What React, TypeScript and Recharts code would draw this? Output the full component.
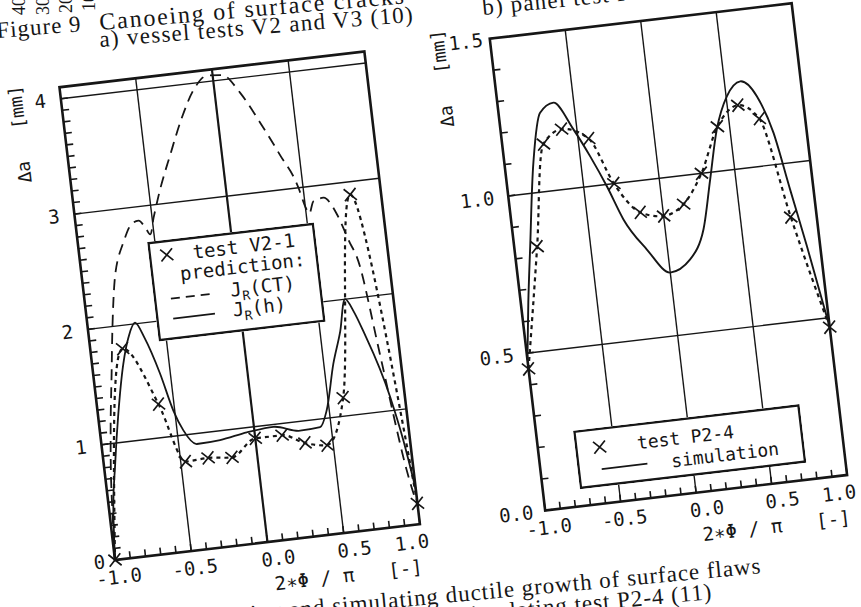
import React from 'react'
import { ComposedChart, Line, XAxis, YAxis, CartesianGrid, ReferenceArea, ReferenceLine, Legend } from 'recharts'

// a) vessel test V2-1 (crosses)
const v2TestX = [-1.0, -0.79, -0.6, -0.47, -0.32, -0.165, 0.0, 0.176, 0.318, 0.459, 0.6, 0.8, 1.0]
const v2TestY = [0.0, 1.8, 1.29, 0.77, 0.78, 0.76, 0.9, 0.9, 0.81, 0.77, 1.16, 2.89, 0.18]

// prediction J_R(CT), dashed
const jrCtX = [-1.0, -0.97, -0.93, -0.88, -0.84, -0.79, -0.7, -0.635, -0.59, -0.55, -0.525, -0.49, -0.425, -0.335, -0.23, -0.13, -0.04, 0.065, 0.165, 0.27, 0.375, 0.47, 0.5, 0.52, 0.557, 0.624, 0.7, 0.755, 0.81, 0.87, 0.955, 1.0]
const jrCtY = [0.0, 0.6, 1.11, 1.6, 1.99, 2.39, 2.72, 2.86, 2.88, 2.81, 2.75, 2.89, 3.13, 3.41, 3.72, 3.95, 4.05, 4.04, 3.87, 3.6, 3.3, 3.0, 2.83, 2.77, 2.87, 2.89, 2.73, 2.5, 2.25, 1.5, 0.48, 0.15]

// prediction J_R(h), solid
const jrHX = [-1.0, -0.975, -0.926, -0.867, -0.797, -0.744, -0.69, -0.64, -0.567, -0.509, -0.459, -0.382, -0.229, -0.05, 0.126, 0.296, 0.428, 0.484, 0.562, 0.631, 0.687, 0.735, 0.78, 0.904, 0.957, 1.0]
const jrHY = [0.0, 0.4, 0.82, 1.25, 1.67, 1.89, 2.01, 1.87, 1.55, 1.22, 1.04, 0.91, 0.92, 0.96, 0.98, 0.92, 0.93, 1.07, 1.46, 1.73, 2.0, 1.88, 1.71, 1.12, 0.73, 0.3]

// b) panel test P2-4 (crosses)
const p24TestX = [-1.0, -0.85, -0.73, -0.6, -0.43, -0.3, -0.15, 0.0, 0.14, 0.28, 0.42, 0.57, 0.7, 0.83, 1.0]
const p24TestY = [0.45, 0.83, 1.15, 1.19, 1.15, 1.0, 0.9, 0.88, 0.91, 1.0, 1.14, 1.2, 1.15, 0.83, 0.47]

// simulation, solid
const simX = [-1.0, -0.95, -0.895, -0.81, -0.728, -0.633, -0.522, -0.434, -0.348, -0.265, -0.135, 0.0, 0.14, 0.25, 0.332, 0.414, 0.505, 0.604, 0.701, 0.782, 0.847, 0.913, 1.0]
const simY = [0.48, 0.66, 0.834, 1.095, 1.249, 1.276, 1.184, 1.094, 0.994, 0.884, 0.781, 0.7, 0.734, 0.823, 0.977, 1.132, 1.232, 1.274, 1.221, 1.1, 0.916, 0.733, 0.47]

const xMajor = [-1, -0.5, 0, 0.5, 1]
const xLabels = ['-1.0', '-0.5', '0.0', '0.5', '1.0']
const leftYMajor = [0, 1, 2, 3, 4]
const leftYLabels = ['0', '1', '2', '3', '4']
const rightYMajor = [0, 0.5, 1, 1.5]
const rightYLabels = ['0.0', '0.5', '1.0', '1.5']

const INK = '#161616'
const MONO = "'DejaVu Sans Mono', 'Liberation Mono', monospace"
const SERIF = "'Liberation Serif', 'DejaVu Serif', serif"

// plotter label placement (px): x labels sit a bit right of their tick, the last one left of it
const xLabelShift = [2, 2, 9, 9, -10]
const leftYGap = [10, 15, 15, 15, 15]
const rightYGap = [12, 13, 14, 7]

const rows = (xs: number[], ys: number[]) => xs.map((x, i) => ({ x, y: ys[i] }))
// minor tick positions every 0.1
const tenths = (a: number, b: number) => {
  const out: number[] = []
  for (let k = Math.round(a * 10); k <= Math.round(b * 10); k++) out.push(k / 10)
  return out
}
const near = (list: number[], v: number) => list.findIndex((m) => Math.abs(m - v) < 1e-6)

const makeXTick = (majors: number[], labels: string[]) => (props: any) => {
  const { x, y, payload } = props
  const i = near(majors, payload.value)
  return (
    <g>
      <line x1={x} x2={x} y1={y} y2={y - 7} stroke={INK} strokeWidth={1.6} />
      {i >= 0 && (
        <text x={x + xLabelShift[i]} y={y + 24} textAnchor="middle" fontFamily={MONO} fontSize={19} fill={INK}>
          {labels[i]}
        </text>
      )}
    </g>
  )
}

const makeYTick = (majors: number[], labels: string[], gaps: number[]) => (props: any) => {
  const { x, y, payload } = props
  const i = near(majors, payload.value)
  return (
    <g>
      <line x1={x} x2={x + 7} y1={y} y2={y} stroke={INK} strokeWidth={1.6} />
      {i >= 0 && (
        <text x={x - gaps[i]} y={y + 7} textAnchor="end" fontFamily={MONO} fontSize={19} fill={INK}>
          {labels[i]}
        </text>
      )}
    </g>
  )
}

const makeYTitle = (left: number, down: number) => (props: any) => {
  const { viewBox } = props
  const cx = viewBox.x + viewBox.width - left
  const cy = viewBox.y + down
  return (
    <text
      x={cx}
      y={cy}
      transform={`rotate(-90 ${cx} ${cy})`}
      textAnchor="middle"
      dominantBaseline="central"
      fontFamily={MONO}
      fontSize={18}
      fill={INK}
      xmlSpace="preserve"
    >
      {'Δa   [mm]'}
    </text>
  )
}

const xTitle = (props: any) => {
  const { viewBox } = props
  const cx = viewBox.x + viewBox.width * 0.75
  const cy = viewBox.y + 42
  return (
    <text x={cx} y={cy} textAnchor="middle" dominantBaseline="central" fontFamily={MONO} fontSize={19} fill={INK} xmlSpace="preserve">
      {'2∗Φ / π   [-]'}
    </text>
  )
}

const cross = (props: any) => {
  const { cx, cy, index } = props
  if (cx == null || cy == null) return <g key={`n${index}`} />
  const s = 6
  return (
    <path
      key={`c${index}`}
      d={`M${cx - s},${cy - s}L${cx + s},${cy + s}M${cx - s},${cy + s}L${cx + s},${cy - s}`}
      stroke={INK}
      strokeWidth={1.7}
      fill="none"
    />
  )
}

function LeftLegendBox() {
  return (
    <svg width={168} height={100} style={{ display: 'block', background: '#fff' }}>
      <rect x={1.2} y={1.2} width={165.6} height={97.6} fill="#fff" stroke={INK} strokeWidth={2.4} />
      <path d="M12,9L24,21M12,21L24,9" stroke={INK} strokeWidth={1.7} />
      <g fontFamily={MONO} fontSize={19} fill={INK}>
        <text x={44} y={22}>test V2-1</text>
        <text x={29} y={42}>prediction:</text>
        <text x={77} y={64}>
          J<tspan fontSize={13} dy={5}>R</tspan>
          <tspan dy={-5}>(CT)</tspan>
        </text>
        <text x={77} y={84}>
          J<tspan fontSize={13} dy={5}>R</tspan>
          <tspan dy={-5}>(h)</tspan>
        </text>
      </g>
      <line x1={17} x2={59} y1={59} y2={59} stroke={INK} strokeWidth={1.8} strokeDasharray="9 6" />
      <line x1={17} x2={59} y1={79} y2={79} stroke={INK} strokeWidth={1.8} />
    </svg>
  )
}

function RightLegendBox() {
  return (
    <svg width={228} height={59} style={{ display: 'block', background: '#fff' }}>
      <rect x={1.2} y={1.2} width={225.6} height={56.6} fill="#fff" stroke={INK} strokeWidth={2.4} />
      <path d="M18.5,13.5L30.5,25.5M18.5,25.5L30.5,13.5" stroke={INK} strokeWidth={1.7} />
      <line x1={24} x2={70} y1={41.5} y2={41.5} stroke={INK} strokeWidth={1.8} />
      <g fontFamily={MONO} fontSize={18} fill={INK}>
        <text x={62} y={26}>test P2-4</text>
        <text x={94} y={48}>simulation</text>
      </g>
    </svg>
  )
}

const MARGIN = { top: 20, right: 30, bottom: 40, left: 30 }

function VesselPanel() {
  return (
    <ComposedChart width={407} height={566} margin={MARGIN}>
      <CartesianGrid horizontalValues={[1, 2, 3, 4]} verticalValues={[-0.5, 0.5]} stroke={INK} strokeWidth={1.4} />
      <ReferenceLine x={0} stroke={INK} strokeWidth={2.2} />
      <XAxis
        type="number"
        dataKey="x"
        domain={[-1, 1]}
        ticks={tenths(-1, 1)}
        interval={0}
        tickSize={0}
        tickMargin={0}
        axisLine={false}
        tickLine={false}
        tick={makeXTick(xMajor, xLabels)}
        height={30}
        label={xTitle}
      />
      <YAxis
        type="number"
        dataKey="y"
        domain={[0, 4.1]}
        ticks={tenths(0, 4)}
        interval={0}
        tickSize={0}
        tickMargin={0}
        axisLine={false}
        tickLine={false}
        tick={makeYTick(leftYMajor, leftYLabels, leftYGap)}
        width={40}
        label={makeYTitle(45, 42)}
      />
      <ReferenceArea x1={-1} x2={1} y1={0} y2={4.1} fill="none" stroke={INK} strokeWidth={2.6} ifOverflow="visible" />
      <Line data={rows(jrCtX, jrCtY)} dataKey="y" type="monotone" stroke={INK} strokeWidth={1.8} strokeDasharray="11 7" dot={false} isAnimationActive={false} />
      <Line data={rows(jrHX, jrHY)} dataKey="y" type="monotone" stroke={INK} strokeWidth={1.8} dot={false} isAnimationActive={false} />
      <Line data={rows(v2TestX, v2TestY)} dataKey="y" type="monotone" stroke={INK} strokeWidth={2.2} strokeDasharray="4 4" dot={cross} isAnimationActive={false} />
      <Legend
        layout="vertical"
        align="center"
        verticalAlign="middle"
        wrapperStyle={{ left: 139, top: 184, width: 168, height: 100 }}
        content={() => <LeftLegendBox />}
      />
    </ComposedChart>
  )
}

function PanelTest() {
  return (
    <ComposedChart width={404} height={565} margin={MARGIN}>
      <CartesianGrid horizontalValues={[0.5, 1.0]} verticalValues={[-0.5, 0, 0.5]} stroke={INK} strokeWidth={1.4} />
      <XAxis
        type="number"
        dataKey="x"
        domain={[-1, 1]}
        ticks={tenths(-1, 1)}
        interval={0}
        tickSize={0}
        tickMargin={0}
        axisLine={false}
        tickLine={false}
        tick={makeXTick(xMajor, xLabels)}
        height={30}
        label={xTitle}
      />
      <YAxis
        type="number"
        dataKey="y"
        domain={[0, 1.5]}
        ticks={tenths(0, 1.5)}
        interval={0}
        tickSize={0}
        tickMargin={0}
        axisLine={false}
        tickLine={false}
        tick={makeYTick(rightYMajor, rightYLabels, rightYGap)}
        width={40}
        label={makeYTitle(52, 34)}
      />
      <ReferenceArea x1={-1} x2={1} y1={0} y2={1.5} fill="none" stroke={INK} strokeWidth={2.6} ifOverflow="visible" />
      <Line data={rows(simX, simY)} dataKey="y" type="monotone" stroke={INK} strokeWidth={1.9} dot={false} isAnimationActive={false} />
      <Line data={rows(p24TestX, p24TestY)} dataKey="y" type="monotone" stroke={INK} strokeWidth={2.2} strokeDasharray="4 4" dot={cross} isAnimationActive={false} />
      <Legend
        layout="vertical"
        align="center"
        verticalAlign="middle"
        wrapperStyle={{ left: 107, top: 419, width: 228, height: 59 }}
        content={() => <RightLegendBox />}
      />
    </ComposedChart>
  )
}

export default function App() {
  return (
    <div style={{ position: 'fixed', inset: 0, overflow: 'hidden', background: '#fff' }}>
      {/* the scanned page sits tilted by about 6.7 degrees */}
      <div
        style={{
          position: 'absolute',
          left: 0,
          top: 0,
          width: 861,
          height: 607,
          transform: 'rotate(-6.7deg)',
          transformOrigin: '115px 560px',
        }}
      >
        <div style={{ position: 'absolute', left: 45, top: 64 }}>
          <VesselPanel />
        </div>
        <div style={{ position: 'absolute', left: 478, top: 66 }}>
          <PanelTest />
        </div>
      </div>
      <svg width={861} height={607} style={{ position: 'absolute', left: 0, top: 0, pointerEvents: 'none' }}>
        <g fontFamily={SERIF} fill={INK}>
          <text x={-3} y={38} fontSize={23} letterSpacing={1} transform="rotate(-4.6 -3 38)">Figure 9</text>
          <text x={100} y={30} fontSize={24} letterSpacing={1.8} transform="rotate(-5 100 30)">Canoeing of surface cracks</text>
          <text x={100} y={47} fontSize={23} letterSpacing={1.3} transform="rotate(-4.6 100 47)">a) vessel tests V2 and V3 (10)</text>
          <text x={483} y={15} fontSize={23} letterSpacing={1.2} transform="rotate(-5.8 483 15)">b) panel test P2-4 (11)</text>
          <text x={762} y={573} fontSize={23} letterSpacing={1} textAnchor="end" transform="rotate(-5.4 762 573)">
            Figure 10 Canoeing and simulating ductile growth of surface flaws
          </text>
          <text x={713} y={599} fontSize={23} letterSpacing={1} textAnchor="end" transform="rotate(-5.4 713 599)">
            a) vessel tests V2 and V3 (10) b) simulating test P2-4 (11)
          </text>
        </g>
        <g fontFamily={SERIF} fontSize={18} fill={INK}>
          <text x={25} y={15} transform="rotate(-90 25 15)">40</text>
          <text x={49} y={15} transform="rotate(-90 49 15)">30</text>
          <text x={72} y={13} transform="rotate(-90 72 13)">20</text>
          <text x={95} y={11} transform="rotate(-90 95 11)">10</text>
        </g>
      </svg>
    </div>
  )
}
